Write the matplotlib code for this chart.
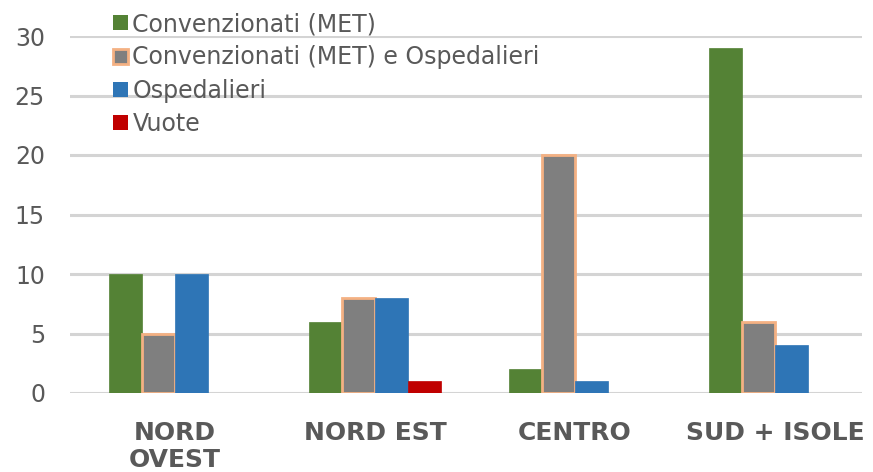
import matplotlib
matplotlib.use("Agg")
import matplotlib.pyplot as plt
from matplotlib.patches import Patch
import numpy as np

categories = ["NORD\nOVEST", "NORD EST", "CENTRO", "SUD + ISOLE"]
series_names = ["Convenzionati (MET)", "Convenzionati (MET) e Ospedalieri", "Ospedalieri", "Vuote"]
conv_met = [10, 6, 2, 29]
conv_osp = [5, 8, 20, 6]
ospedalieri = [10, 8, 1, 4]
vuote = [0, 1, 0, 0]
yticks = [0, 5, 10, 15, 20, 25, 30]

colors = ["#548235", "#7F7F7F", "#2E75B6", "#C00000"]
edges = ["#548235", "#F4B183", "#2E75B6", "#C00000"]

fig = plt.figure(figsize=(8.73, 4.72), dpi=100)
ax = fig.add_axes([70/873, (472-393)/472, (862-70)/873, (393-36)/472])

x = np.arange(len(categories))
w = 0.165
data = [conv_met, conv_osp, ospedalieri, vuote]
for k, vals in enumerate(data):
    lw = 2.0 if k == 1 else 0.5
    ax.bar(x + (k - 1.5) * w, vals, width=w, color=colors[k], edgecolor=edges[k],
           linewidth=lw, zorder=3)

ax.set_xlim(-0.525, 3.435)
ax.set_ylim(0, 30)
ax.set_yticks(yticks)
ax.set_yticklabels([str(t) for t in yticks])
ax.set_xticks(x)
ax.set_xticklabels(categories, fontweight="bold", fontsize=18, color="#595959", linespacing=1.15)
ax.tick_params(axis="y", length=0, pad=18, labelsize=17, labelcolor="#595959")
ax.tick_params(axis="x", length=0, pad=20)
for s in ax.spines.values():
    s.set_visible(False)
ax.grid(axis="y", color="#D4D4D4", linewidth=2.2, zorder=0)
ax.set_axisbelow(True)

handles = [Patch(facecolor=colors[k], edgecolor=edges[k], linewidth=(2 if k == 1 else 0))
           for k in range(4)]
leg = fig.legend(handles, series_names, loc="upper left", bbox_to_anchor=(111/873, 0.979),
                 frameon=False, fontsize=17, handlelength=0.6, handleheight=0.6,
                 handletextpad=0.21, labelspacing=0.39, borderaxespad=0.0, borderpad=0.1)
for t in leg.get_texts():
    t.set_color("#595959")

fig.savefig("out.png", dpi=100)
